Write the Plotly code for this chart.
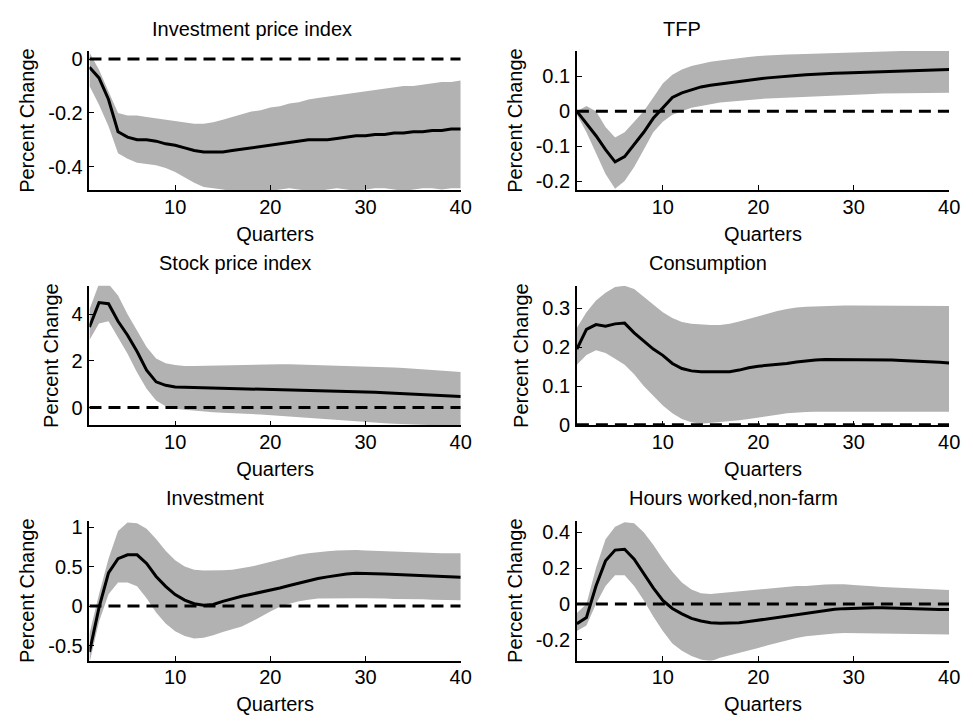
import plotly.graph_objects as go

quarters = list(range(1, 41))

panel_titles = ["Investment price index", "TFP", "Stock price index",
                "Consumption", "Investment", "Hours worked,non-farm"]

# ---- Investment price index
inv_price_med = [-0.03, -0.07, -0.15, -0.27, -0.29, -0.30, -0.30, -0.305, -0.315, -0.32,
                 -0.33, -0.34, -0.345, -0.345, -0.345, -0.34, -0.335, -0.33, -0.325, -0.32,
                 -0.315, -0.31, -0.305, -0.30, -0.30, -0.30, -0.295, -0.29, -0.285, -0.285,
                 -0.28, -0.28, -0.275, -0.275, -0.27, -0.27, -0.265, -0.265, -0.26, -0.26]
inv_price_up = [0.025, -0.04, -0.12, -0.20, -0.21, -0.21, -0.215, -0.22, -0.225, -0.23,
                -0.235, -0.24, -0.24, -0.235, -0.225, -0.215, -0.205, -0.195, -0.19, -0.18,
                -0.175, -0.165, -0.16, -0.15, -0.145, -0.14, -0.135, -0.13, -0.125, -0.12,
                -0.115, -0.11, -0.105, -0.10, -0.10, -0.095, -0.09, -0.085, -0.085, -0.08]
inv_price_lo = [-0.10, -0.17, -0.25, -0.35, -0.37, -0.385, -0.39, -0.395, -0.405, -0.42,
                -0.44, -0.46, -0.475, -0.48, -0.485, -0.49, -0.49, -0.49, -0.50, -0.49,
                -0.485, -0.48, -0.485, -0.49, -0.49, -0.485, -0.48, -0.485, -0.49, -0.485,
                -0.48, -0.48, -0.485, -0.49, -0.485, -0.48, -0.48, -0.485, -0.48, -0.48]

# ---- TFP
tfp_med = [0.0, -0.035, -0.07, -0.11, -0.145, -0.13, -0.095, -0.06, -0.02, 0.01,
           0.04, 0.053, 0.062, 0.07, 0.075, 0.079, 0.082, 0.086, 0.09, 0.093,
           0.096, 0.099, 0.101, 0.103, 0.105, 0.107, 0.108, 0.109, 0.11, 0.111,
           0.112, 0.113, 0.114, 0.115, 0.116, 0.116, 0.117, 0.118, 0.119, 0.12]
tfp_up = [0.0, 0.015, 0.0, -0.045, -0.075, -0.06, -0.03, 0.0, 0.04, 0.08,
          0.105, 0.12, 0.13, 0.137, 0.142, 0.146, 0.15, 0.153, 0.156, 0.159,
          0.161, 0.162, 0.163, 0.164, 0.165, 0.166, 0.167, 0.168, 0.169, 0.17,
          0.171, 0.171, 0.172, 0.172, 0.173, 0.173, 0.174, 0.174, 0.175, 0.175]
tfp_lo = [-0.01, -0.06, -0.12, -0.18, -0.222, -0.2, -0.16, -0.11, -0.06, -0.03,
          -0.01, 0.0, 0.01, 0.015, 0.02, 0.025, 0.028, 0.031, 0.033, 0.035,
          0.037, 0.039, 0.041, 0.042, 0.043, 0.044, 0.045, 0.046, 0.047, 0.048,
          0.049, 0.05, 0.051, 0.052, 0.052, 0.053, 0.053, 0.053, 0.053, 0.053]

# ---- Stock price index
stock_med = [3.45, 4.5, 4.45, 3.7, 3.1, 2.4, 1.6, 1.1, 0.95, 0.88,
             0.87, 0.86, 0.86, 0.85, 0.84, 0.83, 0.82, 0.81, 0.80, 0.79,
             0.78, 0.77, 0.76, 0.75, 0.74, 0.73, 0.72, 0.71, 0.69, 0.67,
             0.65, 0.63, 0.61, 0.59, 0.57, 0.55, 0.53, 0.51, 0.49, 0.47]
stock_up = [4.2, 5.3, 5.3, 4.8, 4.0, 3.3, 2.6, 2.1, 1.9, 1.82,
            1.78, 1.78, 1.79, 1.80, 1.80, 1.81, 1.82, 1.83, 1.84, 1.85,
            1.85, 1.85, 1.84, 1.84, 1.83, 1.82, 1.81, 1.80, 1.79, 1.78,
            1.76, 1.74, 1.72, 1.69, 1.66, 1.63, 1.60, 1.57, 1.54, 1.52]
stock_lo = [2.9, 3.6, 3.7, 3.0, 2.3, 1.5, 0.8, 0.3, 0.05, -0.05,
            -0.1, -0.15, -0.17, -0.2, -0.22, -0.25, -0.27, -0.28, -0.3, -0.33,
            -0.35, -0.38, -0.4, -0.43, -0.45, -0.48, -0.51, -0.55, -0.58, -0.62,
            -0.65, -0.68, -0.7, -0.72, -0.74, -0.75, -0.76, -0.77, -0.79, -0.8]

# ---- Consumption
cons_med = [0.195, 0.246, 0.258, 0.254, 0.26, 0.262, 0.237, 0.216, 0.195, 0.179,
            0.158, 0.145, 0.139, 0.137, 0.137, 0.136, 0.137, 0.141, 0.147, 0.151,
            0.153, 0.156, 0.158, 0.162, 0.165, 0.167, 0.168, 0.168, 0.168, 0.168,
            0.168, 0.168, 0.168, 0.167, 0.166, 0.165, 0.163, 0.162, 0.161, 0.159]
cons_up = [0.25, 0.29, 0.32, 0.34, 0.355, 0.358, 0.35, 0.33, 0.31, 0.29,
           0.275, 0.265, 0.26, 0.258, 0.257, 0.257, 0.26, 0.266, 0.273, 0.28,
           0.287, 0.293, 0.298, 0.302, 0.304, 0.305, 0.306, 0.306, 0.307, 0.307,
           0.307, 0.307, 0.307, 0.306, 0.306, 0.306, 0.306, 0.306, 0.306, 0.306]
cons_lo = [0.155, 0.18, 0.192, 0.185, 0.17, 0.155, 0.13, 0.10, 0.075, 0.05,
           0.03, 0.015, 0.007, 0.003, 0.005, 0.008, 0.01, 0.012, 0.015, 0.018,
           0.022, 0.026, 0.03, 0.032, 0.033, 0.034, 0.034, 0.035, 0.035, 0.035,
           0.035, 0.034, 0.034, 0.034, 0.034, 0.034, 0.034, 0.034, 0.034, 0.034]

# ---- Investment
inv_med = [-0.58, -0.02, 0.42, 0.60, 0.65, 0.65, 0.54, 0.375, 0.25, 0.146,
           0.075, 0.03, 0.01, 0.02, 0.06, 0.096, 0.125, 0.15, 0.175, 0.20,
           0.23, 0.26, 0.29, 0.32, 0.35, 0.37, 0.39, 0.405, 0.415, 0.415,
           0.41, 0.405, 0.40, 0.395, 0.39, 0.385, 0.38, 0.375, 0.37, 0.365]
inv_up = [-0.35, 0.15, 0.6, 0.95, 1.06, 1.05, 0.98, 0.85, 0.70, 0.58,
          0.50, 0.46, 0.45, 0.45, 0.455, 0.46, 0.48, 0.50, 0.53, 0.56,
          0.59, 0.62, 0.65, 0.67, 0.685, 0.695, 0.705, 0.71, 0.71, 0.705,
          0.70, 0.695, 0.69, 0.685, 0.68, 0.675, 0.67, 0.67, 0.67, 0.67]
inv_lo = [-0.72, -0.2, 0.15, 0.3, 0.3, 0.25, 0.1, -0.08, -0.22, -0.32,
          -0.38, -0.41, -0.40, -0.37, -0.33, -0.30, -0.26, -0.20, -0.14, -0.07,
          -0.01, 0.03, 0.06, 0.08, 0.095, 0.1, 0.1, 0.1, 0.1, 0.1,
          0.1, 0.095, 0.09, 0.09, 0.085, 0.085, 0.08, 0.08, 0.075, 0.075]

# ---- Hours worked, non-farm
hours_med = [-0.11, -0.075, 0.10, 0.24, 0.30, 0.305, 0.25, 0.17, 0.09, 0.02,
             -0.025, -0.055, -0.08, -0.095, -0.105, -0.108, -0.108, -0.105, -0.098, -0.09,
             -0.082, -0.074, -0.066, -0.058, -0.05, -0.042, -0.036, -0.03, -0.026, -0.023,
             -0.022, -0.021, -0.021, -0.023, -0.026, -0.028, -0.03, -0.03, -0.031, -0.031]
hours_up = [-0.05, 0.0, 0.2, 0.36, 0.43, 0.455, 0.45, 0.40, 0.33, 0.25,
            0.18, 0.12, 0.08, 0.06, 0.055, 0.06, 0.065, 0.07, 0.075, 0.08,
            0.085, 0.09, 0.095, 0.10, 0.10, 0.105, 0.108, 0.11, 0.11, 0.105,
            0.10, 0.098, 0.095, 0.092, 0.09, 0.088, 0.085, 0.082, 0.08, 0.078]
hours_lo = [-0.15, -0.12, 0.0, 0.1, 0.16, 0.16, 0.10, 0.02, -0.07, -0.15,
            -0.22, -0.26, -0.29, -0.31, -0.32, -0.30, -0.285, -0.27, -0.258, -0.245,
            -0.23, -0.215, -0.202, -0.19, -0.18, -0.175, -0.17, -0.165, -0.162, -0.16,
            -0.16, -0.162, -0.163, -0.164, -0.165, -0.166, -0.167, -0.168, -0.169, -0.17]

medians = [inv_price_med, tfp_med, stock_med, cons_med, inv_med, hours_med]
uppers = [inv_price_up, tfp_up, stock_up, cons_up, inv_up, hours_up]
lowers = [inv_price_lo, tfp_lo, stock_lo, cons_lo, inv_lo, hours_lo]

y_ranges = [[-0.487, 0.03], [-0.226, 0.173], [-0.77, 5.22],
            [-0.0015, 0.358], [-0.69, 1.08], [-0.315, 0.463]]
y_tickvals = [[-0.4, -0.2, 0], [-0.2, -0.1, 0, 0.1], [0, 2, 4],
              [0, 0.1, 0.2, 0.3], [-0.5, 0, 0.5, 1], [-0.2, 0, 0.2, 0.4]]
y_ticktext = [["-0.4", "-0.2", "0"], ["-0.2", "-0.1", "0", "0.1"], ["0", "2", "4"],
              ["0", "0.1", "0.2", "0.3"], ["-0.5", "0", "0.5", "1"], ["-0.2", "0", "0.2", "0.4"]]
x_tickvals = [10, 20, 30, 40]

W, H = 973, 728
col_px = [(90.5, 466), (583.5, 960)]
row_px = [(47, 189), (286.7, 429.3), (526.7, 669.3)]
title_pos = [(255, 25), (690, 25), (238, 263), (716, 263), (217, 503), (742, 503)]

FONT = "Liberation Sans, Arial, sans-serif"
FS = 20
band_color = "#b2b2b2"

fig = go.Figure()
layout_axes = {}
annotations = []
for i in range(6):
    r, c = divmod(i, 2)
    ax = "" if i == 0 else str(i + 1)
    xa, ya = "x" + ax, "y" + ax
    x0, x1 = col_px[c]
    ytop, ybot = row_px[r]
    # band
    fig.add_trace(go.Scatter(x=quarters + quarters[::-1], y=uppers[i] + lowers[i][::-1],
                             fill="toself", fillcolor=band_color, mode="lines",
                             line=dict(width=0, color=band_color), xaxis=xa, yaxis=ya,
                             showlegend=False, hoverinfo="skip"))
    # zero line
    fig.add_trace(go.Scatter(x=[quarters[0], quarters[-1]], y=[0, 0], mode="lines",
                             line=dict(color="black", width=3, dash="12px,7px"),
                             xaxis=xa, yaxis=ya, showlegend=False))
    # median
    fig.add_trace(go.Scatter(x=quarters, y=medians[i], mode="lines",
                             line=dict(color="black", width=3),
                             xaxis=xa, yaxis=ya, showlegend=False))
    common = dict(showline=True, linecolor="black", linewidth=1.5, mirror=False,
                  ticks="inside", ticklen=5, tickwidth=1, tickcolor="black",
                  showgrid=False, zeroline=False,
                  tickfont=dict(family=FONT, size=FS, color="black"))
    layout_axes["xaxis" + ax] = dict(
        domain=[x0 / W, x1 / W], range=[1, 40], anchor=ya,
        tickvals=x_tickvals, ticktext=[str(v) for v in x_tickvals],
        ticklabelstandoff=-2,
        title=dict(text="Quarters", font=dict(family=FONT, size=FS, color="black"), standoff=10),
        **common)
    layout_axes["yaxis" + ax] = dict(
        domain=[1 - ybot / H, 1 - ytop / H], range=y_ranges[i], anchor=xa,
        tickvals=y_tickvals[i], ticktext=y_ticktext[i],
        ticklabelstandoff=1,
        title=dict(text="Percent Change", font=dict(family=FONT, size=FS, color="black"), standoff=8),
        **common)
    tx, ty = title_pos[i]
    annotations.append(dict(text=panel_titles[i], x=tx / W, y=1 - ty / H, xref="paper", yref="paper",
                            xanchor="center", yanchor="middle", showarrow=False,
                            font=dict(family=FONT, size=FS, color="black")))

fig.update_layout(width=W, height=H, margin=dict(l=0, r=0, t=0, b=0),
                  paper_bgcolor="white", plot_bgcolor="white",
                  annotations=annotations, showlegend=False, **layout_axes)

fig.write_html("out.html")
